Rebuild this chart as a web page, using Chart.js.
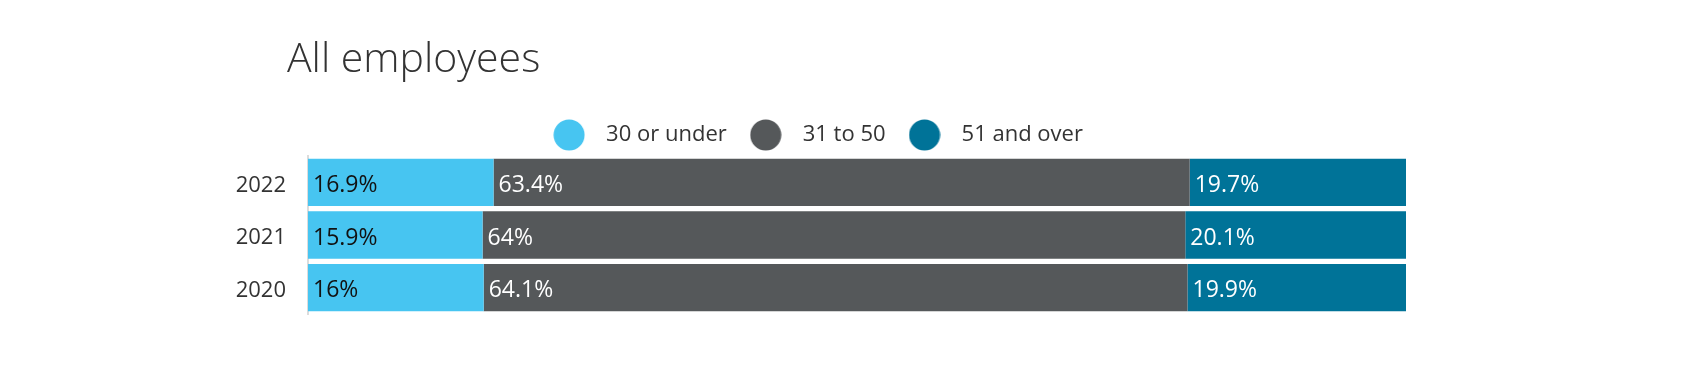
<!DOCTYPE html>
<html>
<head>
<meta charset="utf-8">
<script src="https://cdn.jsdelivr.net/npm/chart.js@4/dist/chart.umd.min.js"></script>
<style>
  body { margin: 0; background: #fff; }
  #wrap { position: relative; width: 1708px; height: 378px; }
  #title { position: absolute; left: 287px; top: 36px; margin: 0; font: 300 41px/1 "Open Sans", sans-serif; color: #333; }
  canvas { position: absolute; left: 0; top: 0; }
</style>
</head>
<body>
<div id="wrap">
  <canvas id="chart" width="1708" height="378"></canvas>
  <h1 id="title">All employees</h1>
</div>
<script>
// Chart data
const years = ["2022", "2021", "2020"];
const seriesNames = ["30 or under", "31 to 50", "51 and over"];
const under30 = [16.9, 15.9, 16];
const from31to50 = [63.4, 64, 64.1];
const over51 = [19.7, 20.1, 19.9];

const colors = ["#47c5f1", "#55585a", "#007398"];
const labelColors = ["#111111", "#ffffff", "#ffffff"];
const family = '"Open Sans", sans-serif';

Chart.defaults.font.family = family;

// Round legend dot drawn on a small canvas, used as point style
function makeDot(color) {
  const c = document.createElement("canvas");
  c.width = 32;
  c.height = 32;
  const g = c.getContext("2d");
  g.fillStyle = color;
  g.beginPath();
  g.arc(16, 16, 15.5, 0, Math.PI * 2);
  g.fill();
  return c;
}
const dots = colors.map(makeDot);

// Percentage labels at the start of every segment
const barLabels = {
  id: "barLabels",
  afterDatasetsDraw(chart) {
    const ctx = chart.ctx;
    ctx.save();
    ctx.font = "23px " + family;
    ctx.textBaseline = "middle";
    chart.data.datasets.forEach((ds, i) => {
      chart.getDatasetMeta(i).data.forEach((bar, j) => {
        ctx.fillStyle = labelColors[i];
        ctx.fillText(ds.data[j] + "%", bar.base + 5, bar.y + 3);
      });
    });
    ctx.restore();
  }
};

new Chart(document.querySelector("#chart"), {
  type: "bar",
  data: {
    labels: years,
    datasets: [under30, from31to50, over51].map((values, i) => ({
      label: seriesNames[i],
      data: values,
      backgroundColor: colors[i],
      borderWidth: 0,
      categoryPercentage: 1,
      barPercentage: 0.9
    }))
  },
  options: {
    indexAxis: "y",
    responsive: false,
    animation: false,
    layout: { padding: { top: 111, bottom: 64, left: 220, right: 302 } },
    plugins: {
      title: { display: false },
      tooltip: { enabled: false },
      legend: {
        position: "top",
        labels: {
          usePointStyle: true,
          pointStyleWidth: 52,
          padding: 13,
          color: "#333",
          font: { size: 22 },
          generateLabels: chart => chart.data.datasets.map((ds, i) => ({
            text: ds.label,
            pointStyle: dots[i],
            fillStyle: ds.backgroundColor,
            strokeStyle: ds.backgroundColor,
            lineWidth: 0,
            hidden: false,
            datasetIndex: i,
            fontColor: "#333"
          }))
        }
      }
    },
    scales: {
      x: { stacked: true, display: false, min: 0, max: 100 },
      y: {
        stacked: true,
        grid: { display: false, drawTicks: false },
        border: { display: true, color: "#dcdcdc", width: 2 },
        ticks: { color: "#333", font: { size: 22 }, padding: 22, labelOffset: 3 },
        afterFit(scale) { scale.width = 88; }
      }
    }
  },
  plugins: [barLabels]
});
</script>
</body>
</html>
